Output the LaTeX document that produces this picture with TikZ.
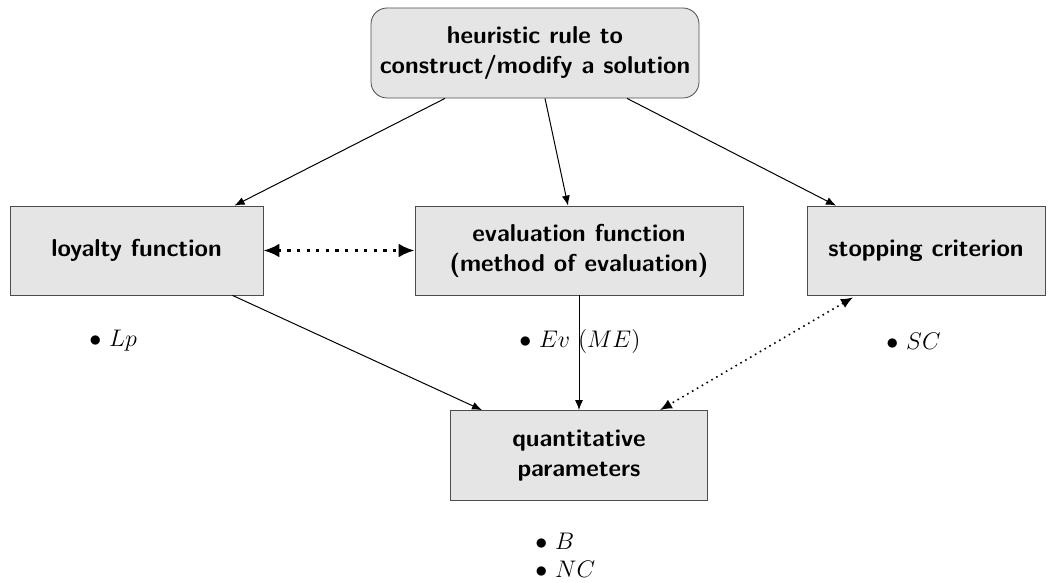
\documentclass[tikz,border=0pt]{standalone}
\usetikzlibrary{arrows.meta}
\begin{document}
\begin{tikzpicture}[x=0.5pt,y=-0.5pt,
  box/.style={draw=black!70, fill=gray!20, font=\fontsize{12.2}{15}\selectfont\sffamily\bfseries,
    align=center, inner sep=0pt},
  conn/.style={-{Latex[length=5pt,width=4pt]}, line width=0.5pt},
  lbl/.style={anchor=west, inner sep=0pt, font=\fontsize{12}{14}\selectfont}]
\useasboundingbox (0,0) rectangle (1051,583);
% boxes
\node[box, rounded corners=8pt, minimum width=164pt, minimum height=45pt]
  (rule) at (535,53) {heuristic rule to\\construct/modify a solution};
\node[box, minimum width=126.5pt, minimum height=44.5pt]
  (loyal) at (136.5,250.5) {loyalty function};
\node[box, minimum width=164pt, minimum height=44.5pt]
  (eval) at (579,250.5) {evaluation function\\(method of evaluation)};
\node[box, minimum width=119pt, minimum height=44.5pt]
  (stop) at (926,250.5) {stopping criterion};
\node[box, minimum width=128.5pt, minimum height=45pt]
  (quant) at (579,455.5) {quantitative\\parameters};
% bullet labels
\node[lbl] (lp) at (89,341) {$\bullet$ $Lp$};
\node[lbl] (ev) at (519,341) {$\bullet$ $Ev$ $(ME)$};
\node[lbl] (sc) at (886,341) {$\bullet$ $SC$};
\node[lbl] (b) at (535,541) {$\bullet$ $B$};
\node[lbl] (nc) at (535,569) {$\bullet$ $NC$};
% connectors
\draw[conn] ([xshift=-45pt]rule.south) -- ([xshift=49pt]loyal.north);
\draw[conn] ([xshift=5pt]rule.south) -- ([xshift=-5.5pt]eval.north);
\draw[conn] ([xshift=46pt]rule.south) -- ([xshift=-45pt]stop.north);
\draw[{Latex[length=8pt,width=7pt]}-{Latex[length=8pt,width=7pt]}, line width=1.6pt,
  dash pattern=on 1.6pt off 3.2pt] (loyal.east) -- (eval.west);
\draw[conn] ([xshift=48pt]loyal.south) -- ([xshift=-48.5pt]quant.north);
\draw[conn] (eval.south) -- (quant.north);
\draw[{Latex[length=6pt,width=5pt]}-{Latex[length=6pt,width=5pt]}, line width=0.8pt,
  dotted] ([xshift=-36.5pt,yshift=-1pt]stop.south) -- ([xshift=40.5pt]quant.north);
\end{tikzpicture}
\end{document}
